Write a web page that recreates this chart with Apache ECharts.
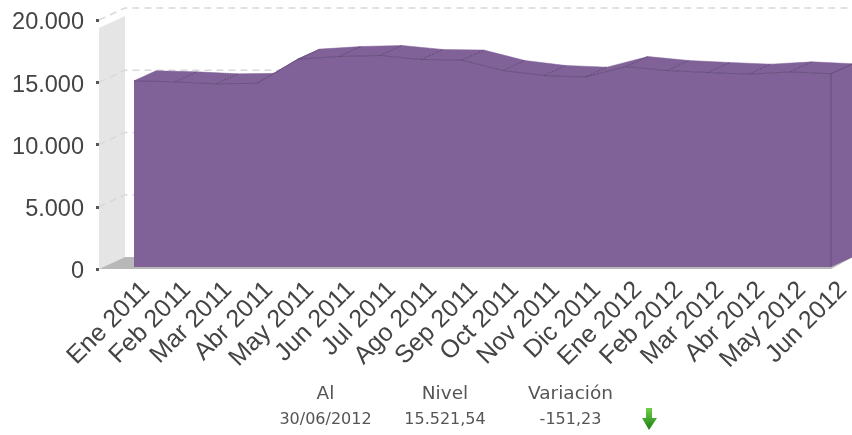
<!DOCTYPE html>
<html>
<head>
<meta charset="utf-8">
<style>
  html, body { margin: 0; padding: 0; background: #fff; }
  #chart { width: 852px; height: 435px; }
</style>
<script src="https://cdn.jsdelivr.net/npm/echarts@6/dist/echarts.min.js"></script>
</head>
<body>
<div id="chart"></div>
<script>
const months = ["Ene 2011", "Feb 2011", "Mar 2011", "Abr 2011", "May 2011", "Jun 2011", "Jul 2011", "Ago 2011", "Sep 2011",
  "Oct 2011", "Nov 2011", "Dic 2011", "Ene 2012", "Feb 2012", "Mar 2012", "Abr 2012", "May 2012", "Jun 2012"];
const levels = [14954, 14870, 14713, 14753, 16699, 16908, 16988, 16667, 16620,
  15780, 15380, 15250, 16100, 15780, 15620, 15490, 15673, 15521.54];
const gridValues = [5000, 10000, 15000, 20000];
const wallTopValue = 19350;
const summaryHeads = ["Al", "Nivel", "Variación"];
const summaryValues = ["30/06/2012", "15.521,54", "-151,23"];
const summaryCenters = [325.5, 445, 570.5];

const PURPLE = "#806299";
// fake 3d offsets, in px
const wallLeft = 35;
const backDx = 26, backDy = -12;
const areaDx = 22, areaDy = -10, areaLift = 2;

function wallItem(params, api) {
  const cs = params.coordSys;
  const x = cs.x - wallLeft;
  const y0 = api.coord([0, 0])[1];
  const yTop = api.coord([0, wallTopValue])[1];
  const right = cs.x + cs.width + areaDx;
  return {
    type: "group",
    children: [
      { type: "polygon", shape: { points: [[x, y0], [x + backDx, y0 + backDy], [x + backDx, yTop + backDy], [x, yTop]] }, style: { fill: "#e5e5e5" } },
      { type: "polygon", shape: { points: [[x, y0], [x + backDx, y0 + backDy], [right, y0 + backDy], [cs.x + cs.width, y0]] }, style: { fill: "#b8b8b8" } },
    ],
  };
}

function gridItem(params, api) {
  const cs = params.coordSys;
  const x = cs.x - wallLeft;
  const y = api.coord([0, api.value(0)])[1];
  return {
    type: "polyline",
    shape: { points: [[x, y], [x + backDx, y + backDy], [852, y + backDy]] },
    style: { fill: null, stroke: "#d9d9d9", lineWidth: 1.5, lineDash: [7, 5] },
  };
}

function areaItem(params, api) {
  const i = params.dataIndex;
  const front = (k) => {
    const p = api.coord([k, levels[k]]);
    return [p[0], p[1] - areaLift];
  };
  const p = front(i);
  const children = [];
  if (i < levels.length - 1) {
    const q = front(i + 1);
    children.push({
      type: "polygon",
      shape: { points: [p, q, [q[0] + areaDx, q[1] + areaDy], [p[0] + areaDx, p[1] + areaDy]] },
      style: { fill: PURPLE, stroke: PURPLE, lineWidth: 0.5 },
    });
    // dark edge between the top facets
    if (i > 0) {
      children.push({
        type: "line",
        shape: { x1: p[0], y1: p[1], x2: p[0] + areaDx, y2: p[1] + areaDy },
        style: { stroke: "#4e3a60", lineWidth: 0.7, lineDash: [2, 1] },
      });
    }
  } else {
    const base = api.coord([i, 0])[1] - areaLift;
    const pts = levels.map((v, k) => front(k));
    children.push({
      type: "polygon",
      shape: { points: [[p[0], p[1]], [p[0] + areaDx, p[1] + areaDy], [p[0] + areaDx, base + areaDy], [p[0], base]] },
      style: { fill: PURPLE },
    });
    children.push({
      type: "line",
      shape: { x1: p[0], y1: p[1], x2: p[0] + areaDx, y2: p[1] + areaDy },
      style: { stroke: "#4e3a60", lineWidth: 0.7 },
    });
    children.push({
      type: "polygon",
      shape: { points: pts.concat([[p[0], base], [pts[0][0], base]]) },
      style: { fill: PURPLE },
    });
    children.push({
      type: "polyline",
      shape: { points: pts.concat([[p[0], base]]) },
      style: { fill: null, stroke: "#5a4570", lineWidth: 0.7 },
    });
  }
  return { type: "group", children };
}

function thousands(v) {
  return String(v).replace(/\B(?=(\d{3})+$)/g, ".");
}

const summaryText = [];
summaryHeads.forEach((t, i) => {
  summaryText.push({ type: "text", x: summaryCenters[i], y: 394, style: { text: t, font: "18.5px 'DejaVu Sans'", fill: "#555", align: "center", verticalAlign: "middle" } });
  summaryText.push({ type: "text", x: summaryCenters[i], y: 420, style: { text: summaryValues[i], font: "16px 'DejaVu Sans'", fill: "#555", align: "center", verticalAlign: "middle" } });
});

const chart = echarts.init(document.getElementById("chart"));
chart.setOption({
  animation: false,
  backgroundColor: "#fff",
  grid: { left: 134, right: 21, top: 20, bottom: 166, outerBoundsMode: "none" },
  xAxis: {
    type: "category",
    data: months,
    boundaryGap: false,
    axisLine: { show: false },
    axisTick: { show: false },
    axisLabel: { rotate: 45, interval: 0, margin: 5, verticalAlign: "top", lineHeight: 34, color: "#444", fontFamily: "Liberation Sans", fontSize: 25 },
  },
  yAxis: {
    type: "value",
    min: 0,
    max: 20000,
    interval: 5000,
    offset: 35,
    splitLine: { show: false },
    axisLine: { show: false },
    axisTick: { show: true, length: 3, lineStyle: { color: "#555", width: 3 } },
    axisLabel: { color: "#444", fontFamily: "Liberation Sans", fontSize: 23.5, margin: 15, verticalAlign: "top", lineHeight: 6, formatter: thousands },
  },
  graphic: summaryText.concat([
    {
      type: "polygon",
      shape: { points: [[646, 408], [652, 408], [652, 418], [657, 418], [649, 430], [642, 418], [646, 418]] },
      style: { fill: new echarts.graphic.LinearGradient(0, 0, 0, 1, [{ offset: 0, color: "#6fd14a" }, { offset: 1, color: "#1c7d14" }]) },
    },
  ]),
  series: [
    { type: "custom", clip: false, z: 1, renderItem: wallItem, data: [[0, 0]], encode: { x: 0, y: 1 }, silent: true },
    { type: "custom", clip: false, z: 2, renderItem: gridItem, coordinateSystem: "cartesian2d", data: gridValues.map((v) => [v]), encode: { y: 0 }, silent: true },
    { type: "custom", clip: false, z: 3, renderItem: areaItem, data: levels.map((v, i) => [i, v]), encode: { x: 0, y: 1 }, silent: true },
  ],
});
</script>
</body>
</html>
